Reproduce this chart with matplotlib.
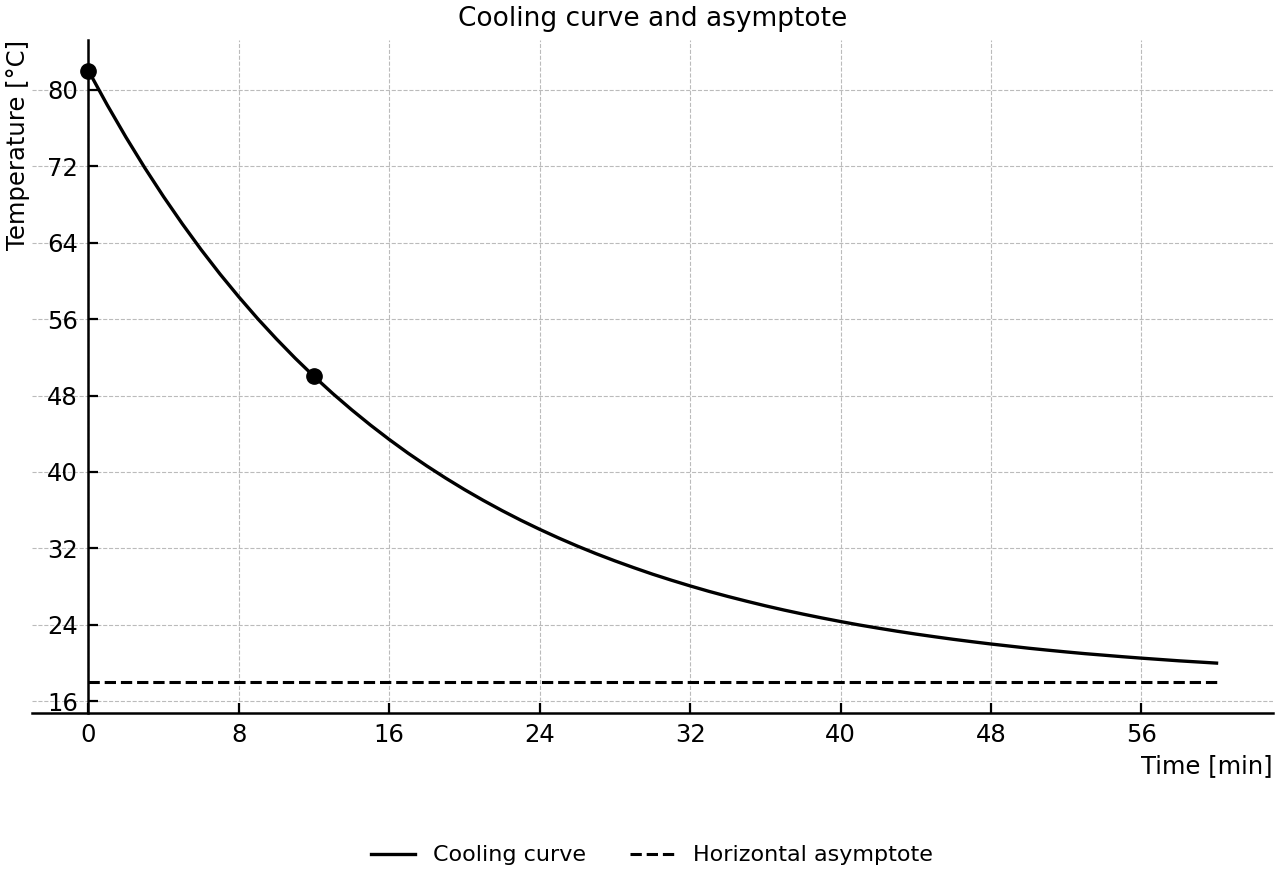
import matplotlib
matplotlib.use("Agg")
from matplotlib import pyplot as plt

# values (one reading per minute)
time_min = list(range(0, 61))
temp_c = [82.00, 78.41, 75.02, 71.82, 68.80, 65.95, 63.25, 60.71, 58.32,
          56.05, 53.92, 51.90, 50.00, 48.20, 46.51, 44.91, 43.40, 41.97,
          40.63, 39.36, 38.16, 37.03, 35.96, 34.95, 34.00, 33.10, 32.25,
          31.45, 30.70, 29.99, 29.31, 28.68, 28.08, 27.51, 26.98, 26.48,
          26.00, 25.55, 25.13, 24.73, 24.35, 23.99, 23.66, 23.34, 23.04,
          22.76, 22.49, 22.24, 22.00, 21.78, 21.56, 21.36, 21.17, 20.99,
          20.83, 20.67, 20.52, 20.38, 20.24, 20.12, 20.00]
ambient = 18
marked_t = [0, 12]
marked_T = [82, 50]
xticks = [0, 8, 16, 24, 32, 40, 48, 56]
yticks = [16, 24, 32, 40, 48, 56, 64, 72, 80]

fig = plt.figure(figsize=(12.8, 8.8), dpi=100)
ax = fig.add_axes([0.025, 0.19, 0.9695, 0.7645])

ax.plot(time_min, temp_c, color='black', linewidth=2.4,
        solid_joinstyle='round', label='Cooling curve')
ax.plot([time_min[0], time_min[-1]], [ambient, ambient], color='black',
        linewidth=2.2, linestyle='--', label='Horizontal asymptote')
ax.plot(marked_t, marked_T, 'o', color='black', markersize=11, zorder=5)

ax.set_xticks(xticks)
ax.set_yticks(yticks)
ax.tick_params(direction='in', labelsize=17.5, length=7, width=1.6, pad=7.5)
ax.spines['left'].set_position(('data', 0))
ax.spines['top'].set_visible(False)
ax.spines['right'].set_visible(False)
ax.spines['left'].set_linewidth(1.8)
ax.spines['bottom'].set_linewidth(1.8)
ax.grid(True, linestyle='--', linewidth=0.8, color='#bbbbbb')

ax.set_title("Cooling curve and asymptote", fontsize=19, y=1.0, pad=10)
ax.set_xlabel("Time [min]", fontsize=17.5, loc='right', labelpad=5)
ax.set_ylabel("Temperature [°C]", fontsize=17.5, loc='top')
ax.yaxis.set_label_coords(-0.002, 1.0)

fig.legend(loc='lower center', ncol=2, frameon=False, fontsize=16,
           bbox_to_anchor=(0.509, -0.006), handlelength=2.0, columnspacing=2.0)

fig.savefig("out.png", dpi=100)
